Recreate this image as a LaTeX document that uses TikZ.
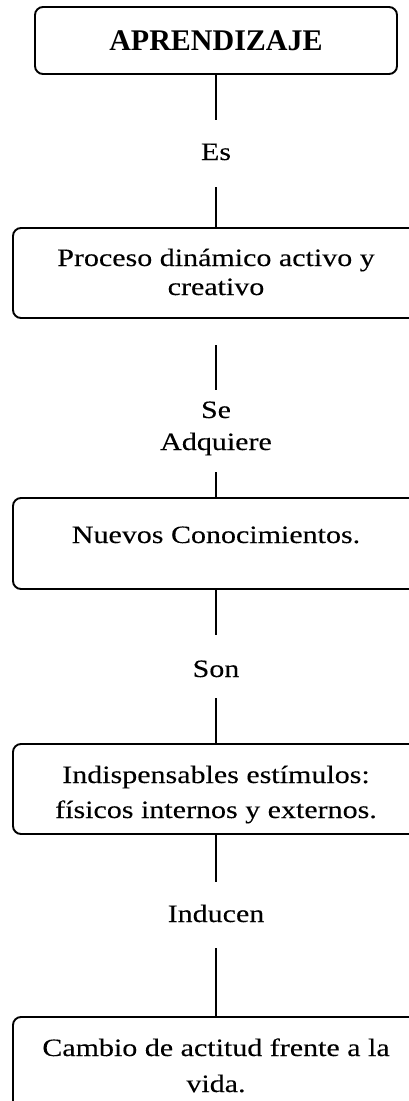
\documentclass[tikz,border=0pt]{standalone}
\usepackage{fontspec}
\setmainfont{Liberation Serif}[FakeStretch=1.2,FakeBold=0.15]
\newfontfamily\headfont{Liberation Serif}
\begin{document}
\begin{tikzpicture}[x=1pt,y=-1pt,
  box/.style={draw, line width=1.9pt, rounded corners=8pt, inner sep=0pt},
  txt/.style={inner sep=0pt, anchor=base, font=\fontsize{25}{29}\selectfont},
  conn/.style={line width=1.9pt}]
\useasboundingbox (0,0) rectangle (409,1101);
\clip (0,0) rectangle (409,1101);
% boxes
\node[box, minimum width=362pt, minimum height=67pt] (b1) at (216,40.5) {};
\node[box, minimum width=406pt, minimum height=90pt] (b2) at (216,273) {};
\node[box, minimum width=406pt, minimum height=91pt] (b3) at (216,543.5) {};
\node[box, minimum width=406pt, minimum height=90pt] (b4) at (216,789) {};
\node[box, minimum width=406pt, minimum height=92pt] (b5) at (216,1063) {};
% box texts
\node[txt, font=\headfont\fontsize{30}{34}\selectfont\bfseries] (t1) at (216,50) {APRENDIZAJE};
\node[txt] (t2a) at (216,266) {Proceso dinámico activo y};
\node[txt] (t2b) at (216,295) {creativo};
\node[txt] (t3) at (216,543) {Nuevos Conocimientos.};
\node[txt] (t4a) at (216,783) {Indispensables estímulos:};
\node[txt] (t4b) at (216,818) {físicos internos y externos.};
\node[txt] (t5a) at (216,1056) {Cambio de actitud frente a la};
\node[txt] (t5b) at (216,1092) {vida.};
% connector labels
\node[txt, text height=40pt, text depth=27pt] (es) at (216,160) {Es};
\node[txt, text height=28pt, text depth=0pt] (se) at (216,418) {Se};
\node[txt, text height=0pt, text depth=22pt] (adq) at (216,450) {Adquiere};
\node[txt, text height=42pt, text depth=21pt] (son) at (216,677) {Son};
\node[txt, text height=40pt, text depth=26pt] (ind) at (216,922) {Inducen};
\coordinate (s2) at (216,345);
% connectors
\draw[conn] (b1.south) -- (es.north);
\draw[conn] (es.south) -- (b2.north);
\draw[conn] (s2) -- (se.north);
\draw[conn] (adq.south) -- (b3.north);
\draw[conn] (b3.south) -- (son.north);
\draw[conn] (son.south) -- (b4.north);
\draw[conn] (b4.south) -- (ind.north);
\draw[conn] (ind.south) -- (b5.north);
\end{tikzpicture}
\end{document}
